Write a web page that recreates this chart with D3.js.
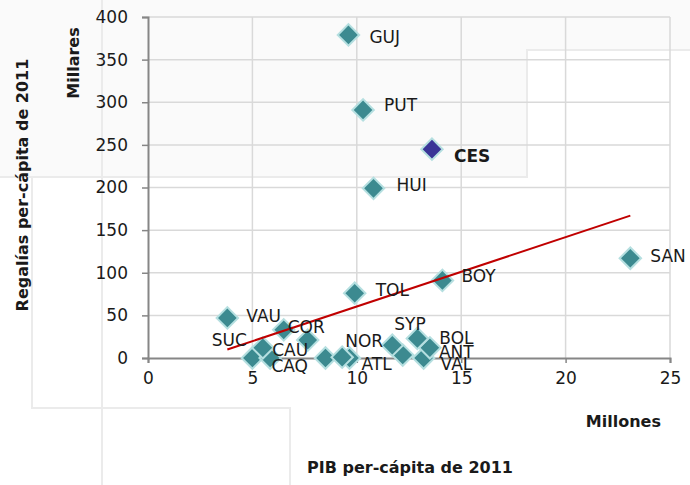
<!DOCTYPE html>
<html>
<head>
  <meta charset="utf-8">
  <script src="https://d3js.org/d3.v7.min.js"></script>
  <style>
    body { margin: 0; background: #fff; }
    text { font-family: "DejaVu Sans", sans-serif; fill: #1a1a1a; }
  </style>
</head>
<body>
  <div id="chart"></div>
  <script>
    // departments, PIB per-capita (millions) and royalties per-capita (thousands), 2011
    const codes = ['GUJ', 'PUT', 'CES', 'HUI', 'SAN', 'BOY', 'TOL', 'VAU', 'COR',
      'SUC', 'CAU', 'CAQ', 'NOR', 'ATL', 'SYP', 'BOL', 'ANT', 'VAL', '', '', ''];
    const pib = [9.6, 10.3, 13.6, 10.8, 23.1, 14.1, 9.9, 3.8, 6.5,
      5.5, 5.85, 5.0, 9.3, 9.65, 11.7, 12.9, 13.5, 13.2, 7.65, 8.5, 12.2];
    const regalias = [379, 291, 245, 199, 117, 91, 76, 47, 33,
      12, 0, 0, 1, 0, 15, 23, 12, 0, 21, 0, 3.5];
    const highlight = 'CES';

    // trend line end points
    const trendX = [3.8, 23.1];
    const trendY = [10, 167];

    const xTicks = [0, 5, 10, 15, 20, 25];
    const yTicks = [0, 50, 100, 150, 200, 250, 300, 350, 400];

    // label offsets in px (style, not data)
    const labelOffset = {
      GUJ: [21, 2], PUT: [21, -5], CES: [22, 7], HUI: [23, -3], SAN: [20, -2],
      BOY: [19, -4], TOL: [21, -3], VAU: [19, -2], COR: [4, -3], SUC: [-51, -8],
      CAU: [2, -8], CAQ: [19, 8], NOR: [3, -16], ATL: [12, 6], SYP: [2, -21],
      BOL: [22, 0], ANT: [9, 4], VAL: [17, 6]
    };

    const width = 690, height = 485;
    const svg = d3.select('#chart').append('svg')
      .attr('width', width)
      .attr('height', height);

    // faint decorative frame in the background
    const deco = svg.append('g');
    deco.append('path')
      .attr('d', 'M0,0 H690 V50 H527 V177 H0 Z')
      .attr('fill', '#fafafa');
    deco.append('path')
      .attr('d', 'M0,177 H527 V50 H690 M102,0 V485 M32,177 V408 H290 V485')
      .attr('fill', 'none')
      .attr('stroke', '#ebebeb')
      .attr('stroke-width', 2);

    const x = d3.scaleLinear().domain([0, 25]).range([148, 670]);
    const y = d3.scaleLinear().domain([0, 400]).range([358, 17]);

    // grid
    svg.append('g').selectAll('line.h')
      .data(yTicks.slice(1))
      .join('line')
      .attr('x1', x(0)).attr('x2', x(25))
      .attr('y1', d => y(d)).attr('y2', d => y(d))
      .attr('stroke', '#d9d9d9').attr('stroke-width', 1.5);
    svg.append('g').selectAll('line.v')
      .data(xTicks.slice(1))
      .join('line')
      .attr('x1', d => x(d)).attr('x2', d => x(d))
      .attr('y1', y(0)).attr('y2', y(400))
      .attr('stroke', '#d9d9d9').attr('stroke-width', 1.5);

    // axes
    const yAxis = svg.append('g')
      .attr('transform', `translate(${x(0)},0)`)
      .call(d3.axisLeft(y).tickValues(yTicks).tickSize(6).tickPadding(14));
    const xAxis = svg.append('g')
      .attr('transform', `translate(0,${y(0)})`)
      .call(d3.axisBottom(x).tickValues(xTicks).tickSize(5).tickPadding(9));
    [xAxis, yAxis].forEach(g => {
      g.select('.domain').attr('stroke', '#868686').attr('stroke-width', 2);
      g.selectAll('.tick line').attr('stroke', '#868686').attr('stroke-width', 1.5);
      g.selectAll('.tick text')
        .attr('font-family', '"DejaVu Sans", sans-serif')
        .attr('font-size', 17)
        .attr('fill', '#1a1a1a');
    });

    // points
    const points = codes.map((c, i) => ({ code: c, x: pib[i], y: regalias[i] }));
    const diamond = d3.symbol(d3.symbolSquare, 230);
    const ordered = points.filter(d => d.code !== highlight).reverse()
      .concat(points.filter(d => d.code === highlight));
    svg.append('g').selectAll('path')
      .data(ordered)
      .join('path')
      .attr('d', diamond)
      .attr('transform', d => `translate(${x(d.x)},${y(d.y)}) rotate(45)`)
      .attr('fill', d => d.code === highlight ? '#3a3597' : '#3c8a90')
      .attr('stroke', '#b5dfe0')
      .attr('stroke-width', 2);

    // trend line
    svg.append('line')
      .attr('x1', x(trendX[0])).attr('y1', y(trendY[0]))
      .attr('x2', x(trendX[1])).attr('y2', y(trendY[1]))
      .attr('stroke', '#c00000')
      .attr('stroke-width', 2);

    // labels
    svg.append('g').selectAll('text')
      .data(points.filter(d => d.code))
      .join('text')
      .attr('x', d => x(d.x) + labelOffset[d.code][0])
      .attr('y', d => y(d.y) + labelOffset[d.code][1])
      .attr('dominant-baseline', 'central')
      .attr('font-size', 17)
      .attr('font-weight', d => d.code === highlight ? 'bold' : 'normal')
      .text(d => d.code);

    // axis titles
    svg.append('text')
      .attr('transform', 'translate(73,63) rotate(-90)')
      .attr('text-anchor', 'middle')
      .attr('dominant-baseline', 'central')
      .attr('font-size', 16).attr('font-weight', 'bold')
      .text('Millares');
    svg.append('text')
      .attr('transform', 'translate(22,185) rotate(-90)')
      .attr('text-anchor', 'middle')
      .attr('dominant-baseline', 'central')
      .attr('font-size', 16).attr('font-weight', 'bold')
      .text('Regalías per-cápita de 2011');
    svg.append('text')
      .attr('x', 661).attr('y', 421)
      .attr('text-anchor', 'end')
      .attr('dominant-baseline', 'central')
      .attr('font-size', 16).attr('font-weight', 'bold')
      .text('Millones');
    svg.append('text')
      .attr('x', 410).attr('y', 467)
      .attr('text-anchor', 'middle')
      .attr('dominant-baseline', 'central')
      .attr('font-size', 16).attr('font-weight', 'bold')
      .text('PIB per-cápita de 2011');
  </script>
</body>
</html>
